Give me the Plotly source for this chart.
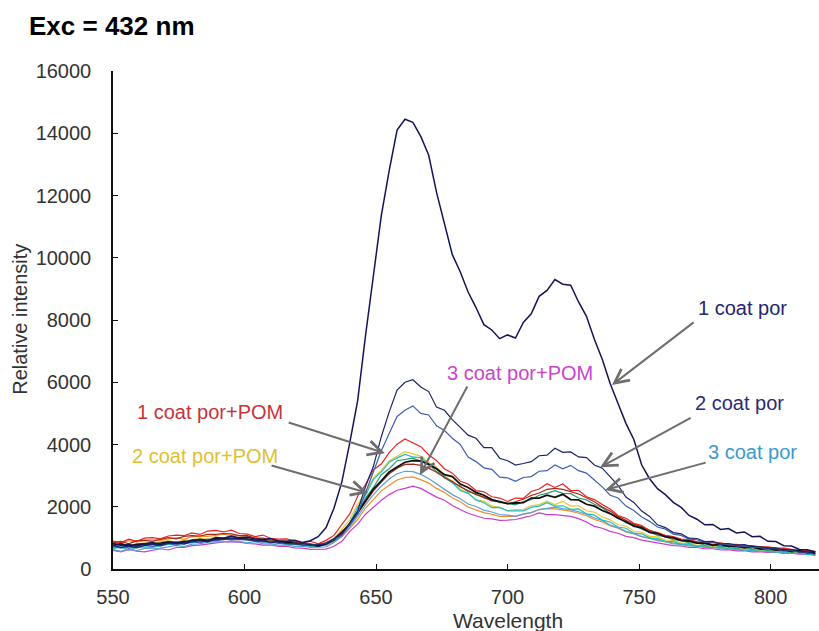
import plotly.graph_objects as go

# Emission spectra, excitation at 432 nm
wavelength = list(range(550, 818, 3))

por_1coat = [820, 760, 790, 740, 810, 850, 780, 870, 860, 840,
             930, 940, 900, 1010, 990, 1060, 1000, 1030, 960, 950,
             980, 900, 890, 920, 850, 910, 1040, 1330, 1950, 2800,
             4050, 5400, 7500, 9400, 11350, 12800, 14100, 14450, 14350, 13900,
             13300, 12100, 11050, 10100, 9550, 8900, 8400, 7850, 7680, 7400,
             7520, 7420, 7920, 8200, 8760, 8950, 9300, 9150, 9120, 8580,
             8120, 7380, 6740, 5960, 5320, 4680, 4160, 3340, 2900, 2580,
             2390, 2140, 1980, 1720, 1600, 1420, 1430, 1270, 1300, 1160,
             1190, 1040, 1050, 890, 880, 750, 740, 630, 620, 550]

por_2coat = [760, 690, 740, 680, 760, 790, 740, 820, 840, 800,
             880, 910, 870, 950, 940, 980, 970, 960, 900, 920,
             850, 890, 820, 810, 830, 770, 780, 810, 970, 1130,
             1480, 1870, 2650, 3300, 4250, 5050, 5750, 6000, 6080, 5850,
             5700, 5200, 5100, 4800, 4550, 4300, 4200, 3900, 3900, 3560,
             3480, 3340, 3390, 3450, 3640, 3660, 3880, 3750, 3760, 3600,
             3580, 3340, 3240, 2960, 2690, 2310, 2140, 1860, 1690, 1420,
             1330, 1170, 1130, 990, 980, 880, 890, 800, 820, 770,
             780, 720, 720, 670, 680, 600, 620, 550, 550, 490]

por_3coat = [700, 750, 670, 730, 770, 720, 800, 820, 770, 850,
             880, 840, 910, 910, 970, 930, 950, 940, 910, 860,
             890, 830, 810, 820, 800, 750, 800, 830, 950, 1080,
             1430, 1770, 2450, 3100, 3800, 4350, 4900, 5100, 5240, 5000,
             4950, 4600, 4450, 4200, 4000, 3600, 3450, 3250, 3200, 2950,
             2930, 2820, 2940, 2970, 3140, 3160, 3340, 3220, 3330, 3160,
             3080, 2860, 2640, 2370, 2280, 2020, 1880, 1670, 1530, 1350,
             1280, 1120, 1080, 960, 940, 860, 860, 790, 790, 740,
             730, 690, 690, 650, 650, 590, 590, 540, 530, 480]

pom_red = [900, 850, 960, 890, 990, 1010, 970, 1060, 1090, 1070,
           1160, 1110, 1220, 1240, 1190, 1250, 1140, 1120, 1040, 1090,
           980, 960, 970, 910, 840, 890, 810, 920, 1080, 1430,
           1770, 2340, 2710, 3190, 3370, 3740, 4010, 4180, 4050, 3930,
           3670, 3480, 3220, 3080, 2820, 2730, 2520, 2480, 2320, 2280,
           2170, 2280, 2270, 2490, 2570, 2740, 2620, 2730, 2520, 2530,
           2320, 2230, 2070, 1930, 1720, 1630, 1470, 1400, 1230, 1170,
           1080, 1040, 960, 940, 880, 870, 860, 840, 790, 790,
           750, 750, 710, 710, 670, 670, 630, 610, 570, 570]

pom_yellow = [780, 830, 750, 810, 840, 830, 870, 910, 860, 930,
              940, 990, 950, 1030, 990, 1050, 1000, 990, 940, 930,
              890, 880, 830, 870, 790, 790, 750, 810, 970, 1270,
              1580, 2080, 2470, 2930, 3170, 3480, 3620, 3770, 3700, 3620,
              3420, 3280, 2970, 2830, 2570, 2430, 2220, 2180, 2020, 1980,
              1870, 1910, 1920, 2030, 2070, 2180, 2070, 2170, 2020, 2030,
              1870, 1830, 1670, 1580, 1420, 1380, 1220, 1180, 1050, 1030,
              930, 920, 830, 820, 760, 760, 700, 720, 660, 680,
              630, 640, 580, 610, 550, 570, 510, 540, 490, 490]

pom_cyan = [650, 710, 610, 690, 710, 700, 740, 790, 810, 810,
            850, 890, 910, 910, 950, 950, 970, 940, 890, 890,
            840, 840, 790, 790, 750, 730, 730, 790, 910, 1170,
            1480, 1980, 2370, 2880, 3120, 3430, 3570, 3680, 3600, 3570,
            3380, 3230, 2920, 2780, 2520, 2430, 2220, 2130, 1970, 1980,
            1870, 1880, 1870, 1980, 2020, 2130, 2020, 2030, 1920, 1930,
            1770, 1730, 1570, 1510, 1350, 1310, 1150, 1130, 1000, 980,
            880, 880, 800, 800, 740, 740, 680, 710, 640, 670,
            600, 620, 570, 590, 540, 560, 500, 520, 470, 490]

pom_teal = [720, 670, 750, 700, 770, 790, 790, 820, 860, 880,
            880, 910, 960, 920, 990, 990, 970, 930, 920, 890,
            880, 840, 830, 790, 790, 750, 740, 780, 910, 1090,
            1420, 1780, 2280, 2620, 3030, 3220, 3480, 3530, 3560, 3460,
            3370, 3130, 2970, 2780, 2670, 2480, 2420, 2280, 2220, 2130,
            2120, 2060, 2170, 2230, 2370, 2430, 2520, 2430, 2420, 2280,
            2220, 2080, 1970, 1780, 1670, 1480, 1420, 1280, 1200, 1080,
            1040, 940, 920, 840, 840, 770, 780, 720, 740, 680,
            710, 640, 660, 600, 620, 570, 590, 530, 550, 490]

pom_black = [760, 810, 730, 790, 810, 800, 830, 870, 820, 890,
             890, 950, 910, 970, 980, 980, 990, 960, 920, 910,
             870, 860, 850, 830, 780, 780, 740, 810, 940, 1160,
             1440, 1810, 2190, 2570, 2830, 3120, 3280, 3430, 3480, 3470,
             3360, 3220, 3030, 2970, 2730, 2620, 2460, 2370, 2230, 2170,
             2100, 2120, 2130, 2280, 2280, 2370, 2300, 2400, 2230, 2220,
             2080, 2020, 1880, 1780, 1630, 1520, 1380, 1320, 1180, 1140,
             1030, 1000, 910, 900, 830, 830, 760, 790, 720, 740,
             680, 710, 640, 660, 610, 620, 560, 590, 520, 540]

pom_darkred = [840, 890, 810, 910, 920, 890, 950, 1010, 970, 1050,
               1070, 1060, 1110, 1110, 1140, 1130, 1070, 1070, 990, 990,
               930, 910, 900, 870, 820, 810, 770, 850, 970, 1190,
               1440, 1790, 2140, 2510, 2790, 3060, 3240, 3360, 3370, 3330,
               3240, 3110, 2940, 2810, 2640, 2510, 2390, 2310, 2190, 2160,
               2090, 2160, 2240, 2360, 2440, 2560, 2590, 2560, 2490, 2410,
               2290, 2160, 1990, 1860, 1690, 1560, 1440, 1360, 1240, 1160,
               1070, 1010, 940, 910, 850, 840, 790, 790, 750, 750,
               710, 710, 680, 680, 640, 640, 600, 600, 560, 560]

pom_lightblue = [620, 570, 650, 590, 660, 670, 670, 710, 760, 720,
                 800, 810, 860, 870, 870, 890, 890, 840, 880, 810,
                 810, 770, 770, 730, 730, 690, 700, 710, 850, 1040,
                 1360, 1690, 2060, 2390, 2660, 2890, 3060, 3140, 3130, 3040,
                 2910, 2740, 2560, 2390, 2260, 2090, 2010, 1890, 1830, 1750,
                 1730, 1690, 1770, 1810, 1910, 1940, 1990, 1940, 1910, 1840,
                 1760, 1640, 1560, 1410, 1330, 1210, 1140, 1040, 990, 910,
                 880, 810, 790, 740, 730, 690, 690, 650, 650, 620,
                 620, 580, 590, 550, 560, 520, 520, 490, 490, 450]

pom_orange = [880, 830, 910, 860, 930, 940, 920, 960, 1010, 950,
              1040, 1050, 1050, 1080, 1120, 1070, 1060, 1010, 1000, 950,
              930, 890, 880, 830, 830, 780, 770, 770, 890, 1040,
              1310, 1590, 1960, 2240, 2510, 2690, 2860, 2940, 2960, 2870,
              2760, 2590, 2460, 2290, 2160, 1990, 1910, 1810, 1760, 1690,
              1690, 1690, 1760, 1810, 1910, 1940, 1930, 1890, 1860, 1790,
              1710, 1590, 1510, 1390, 1310, 1190, 1130, 1040, 990, 920,
              890, 830, 810, 760, 750, 710, 710, 670, 670, 640,
              640, 600, 610, 570, 580, 540, 550, 510, 510, 470]

pom_magenta = [600, 550, 630, 570, 550, 590, 650, 610, 690, 690,
               750, 770, 810, 830, 870, 870, 860, 820, 810, 770,
               770, 730, 730, 680, 670, 630, 630, 640, 730, 890,
               1210, 1440, 1760, 1990, 2210, 2390, 2530, 2590, 2660, 2590,
               2460, 2310, 2210, 2040, 1910, 1790, 1710, 1630, 1610, 1560,
               1570, 1590, 1650, 1710, 1800, 1750, 1750, 1710, 1690, 1620,
               1510, 1370, 1310, 1210, 1150, 1050, 1010, 930, 890, 830,
               810, 750, 740, 690, 690, 650, 650, 610, 620, 580,
               590, 550, 560, 530, 540, 500, 510, 480, 480, 440]

series = [
    ("pom_magenta", pom_magenta, "#cc3ccc", 1.2),
    ("pom_orange", pom_orange, "#f08c28", 1.2),
    ("pom_lightblue", pom_lightblue, "#5aa0d8", 1.2),
    ("pom_yellow", pom_yellow, "#e8c830", 1.2),
    ("pom_cyan", pom_cyan, "#20bcbc", 1.2),
    ("pom_teal", pom_teal, "#2e9a70", 1.2),
    ("pom_darkred", pom_darkred, "#a02a1e", 1.2),
    ("pom_red", pom_red, "#e8231f", 1.2),
    ("pom_black", pom_black, "#111111", 1.8),
    ("por_3coat", por_3coat, "#3f5fae", 1.2),
    ("por_2coat", por_2coat, "#1c2468", 1.2),
    ("por_1coat", por_1coat, "#14145a", 1.5),
]

fig = go.Figure()
for name, vals, color, width in series:
    fig.add_trace(go.Scatter(x=wavelength, y=vals, mode="lines", name=name,
                             line=dict(color=color, width=width)))

FONT = "Liberation Sans, Arial, sans-serif"

# Text labels with pointer arrows: (text, colour, label position, arrow tail, arrow head)
labels = [
    ("1 coat por", "#25256e", (789.5, 8380), (771.3, 7960), (739.7, 5910)),
    ("2 coat por", "#2a2a78", (788.0, 5330), (770.2, 4880), (735.2, 3270)),
    ("3 coat por", "#3a9ad0", (793.1, 3760), (775.9, 3430), (737.1, 2540)),
    ("1 coat por+POM", "#c8333a", (586.7, 5040), (616.2, 4720), (653.4, 3720)),
    ("2 coat por+POM", "#e0c030", (585.0, 3630), (609.7, 3340), (647.0, 2440)),
    ("3 coat por+POM", "#cc44cc", (704.8, 6290), (685.0, 5910), (666.7, 3020)),
]

annotations = []
for text, color, (tx, ty), (ax, ay), (hx, hy) in labels:
    annotations.append(dict(x=tx, y=ty, xref="x", yref="y", text=text,
                            showarrow=False, xanchor="center", yanchor="middle",
                            font=dict(family=FONT, size=20, color=color)))
    annotations.append(dict(x=hx, y=hy, xref="x", yref="y", ax=ax, ay=ay,
                            axref="x", ayref="y", text="", showarrow=True,
                            arrowhead=5, arrowsize=1.4, arrowwidth=2,
                            arrowcolor="#6e6e6e"))

annotations.append(dict(x=700, y=-0.103, xref="x", yref="paper", text="Wavelength",
                        showarrow=False, xanchor="center", yanchor="middle",
                        font=dict(family=FONT, size=21, color="#333333")))
annotations.append(dict(x=-0.132, y=0.502, xref="paper", yref="paper",
                        text="Relative intensity", textangle=-90, showarrow=False,
                        xanchor="center", yanchor="middle",
                        font=dict(family=FONT, size=20, color="#333333")))
annotations.append(dict(x=-0.1218, y=1.09, xref="paper", yref="paper",
                        text="<b>Exc = 432 nm</b>", showarrow=False,
                        xanchor="left", yanchor="middle",
                        font=dict(family=FONT, size=26, color="#000000")))

fig.update_layout(
    width=819, height=631,
    margin=dict(l=113, r=0, t=71, b=62),
    paper_bgcolor="white", plot_bgcolor="white",
    showlegend=False,
    annotations=annotations,
    font=dict(family=FONT, size=20, color="#333333"),
)
fig.update_xaxes(range=[550, 818.4], tickvals=[550, 600, 650, 700, 750, 800],
                 showgrid=False, zeroline=False, showline=True, linecolor="#111111",
                 linewidth=1.5, ticks="inside", ticklen=5, tickcolor="#111111",
                 tickfont=dict(family=FONT, size=20, color="#333333"),
                 ticklabelstandoff=9)
fig.update_yaxes(range=[0, 16000], dtick=2000, tickformat="d",
                 showgrid=False, zeroline=False, showline=True, linecolor="#111111",
                 linewidth=1.5, ticks="inside", ticklen=5, tickcolor="#111111",
                 tickfont=dict(family=FONT, size=20, color="#333333"),
                 ticklabelstandoff=16)

fig.write_html("out.html")
